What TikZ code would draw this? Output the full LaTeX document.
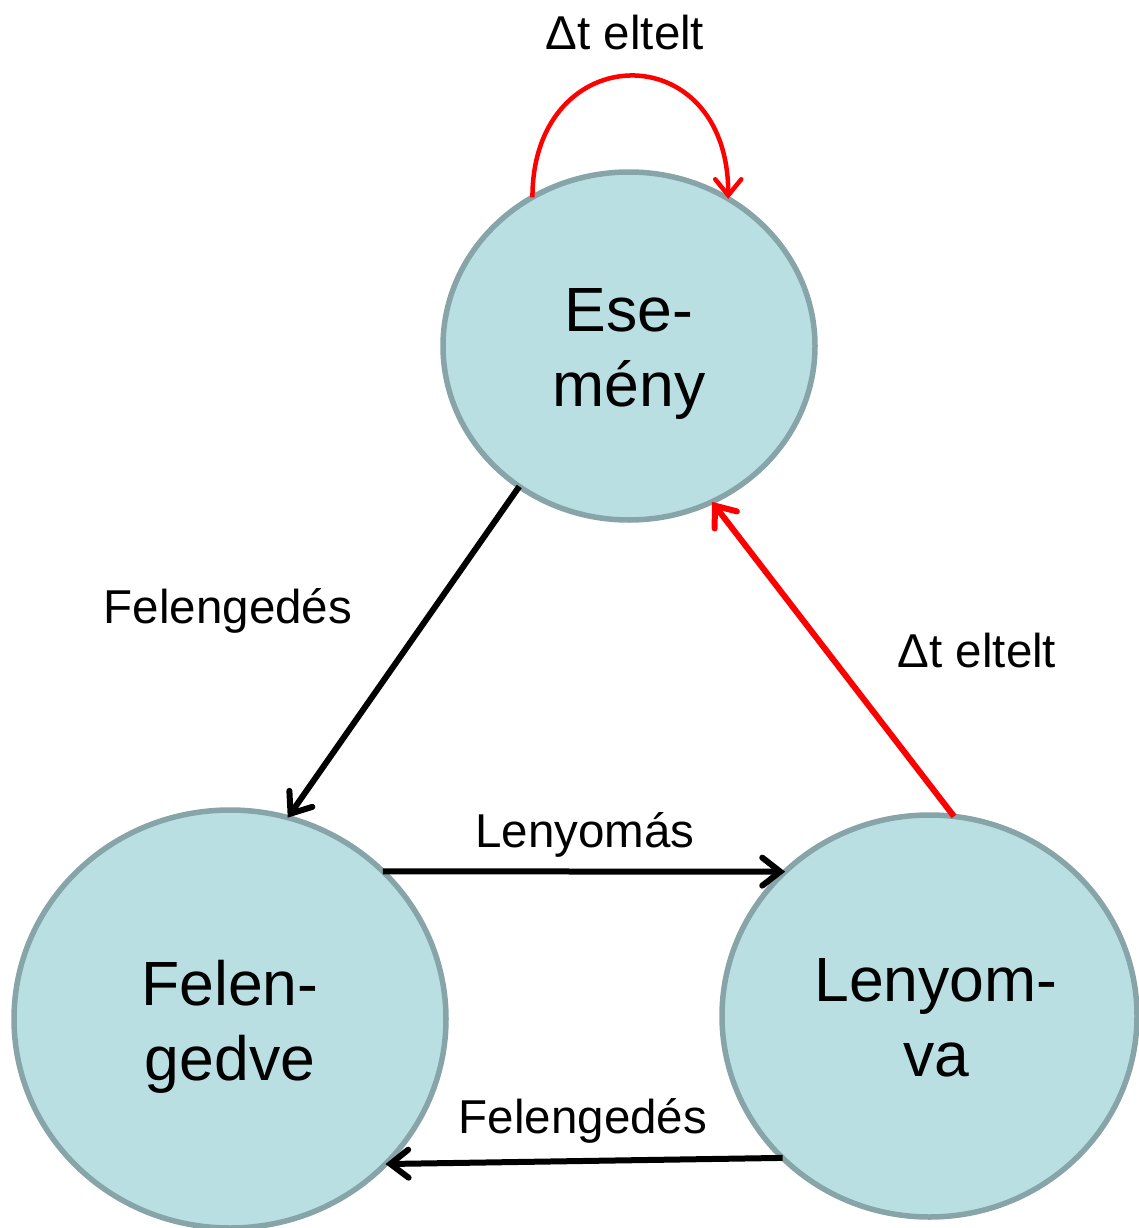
\documentclass[tikz,border=0pt]{standalone}
\usepackage{fontspec}
\setmainfont{Liberation Sans}
\usetikzlibrary{shapes.geometric,arrows.meta}
\definecolor{stfill}{HTML}{B9DFE2}
\definecolor{stline}{HTML}{87A4A8}
\begin{document}
\begin{tikzpicture}[x=1pt,y=-1pt,
  state/.style={ellipse,draw=stline,fill=stfill,line width=5.5pt,inner sep=0pt,outer sep=0pt},
  bigtxt/.style={align=center,font=\fontsize{62.5}{75}\selectfont,inner sep=0pt},
  lbl/.style={font=\fontsize{47.5}{56}\selectfont,inner sep=0pt,anchor=base},
  arr/.style={line width=6pt,-{Straight Barb[length=18pt,width=28pt,line cap=round]}},
  redarr/.style={arr,red},
]
\useasboundingbox (0,0) rectangle (1138,1228);
\node[state,minimum width=372pt,minimum height=348pt] (es) at (629,346) {};
\node[state,minimum width=432pt,minimum height=418pt] (fe) at (230,1019) {};
\node[state,minimum width=415pt,minimum height=402pt] (le) at (929.5,1016) {};
\node[bigtxt] (esT) at (629,354) {Ese-\\mény};
\node[bigtxt] (feT) at (230,1027) {Felen-\\gedve};
\node[bigtxt] (leT) at (936,1017.5) {Lenyom-\\va};
\draw[line width=4.5pt,red,-{Straight Barb[length=16pt,width=26pt,line cap=round]}]
  (es.123) .. controls +(0,-160) and +(0,-165) .. (es.56.1);
\draw[arr] (es.232.5) -- (fe.74.9);
\draw[redarr] (le.83.6) -- (es.-62.7);
\draw[arr] (fe.44.2) -- (le.135.9);
\draw[arr] (le.224.5) -- (fe.-43.9);
\node[lbl] (l1) at (625,50) {Δt eltelt};
\node[lbl] (l2) at (228,623) {Felengedés};
\node[lbl] (l3) at (977,667) {Δt eltelt};
\node[lbl] (l4) at (585,847) {Lenyomás};
\node[lbl] (l5) at (583,1133) {Felengedés};
\end{tikzpicture}
\end{document}
